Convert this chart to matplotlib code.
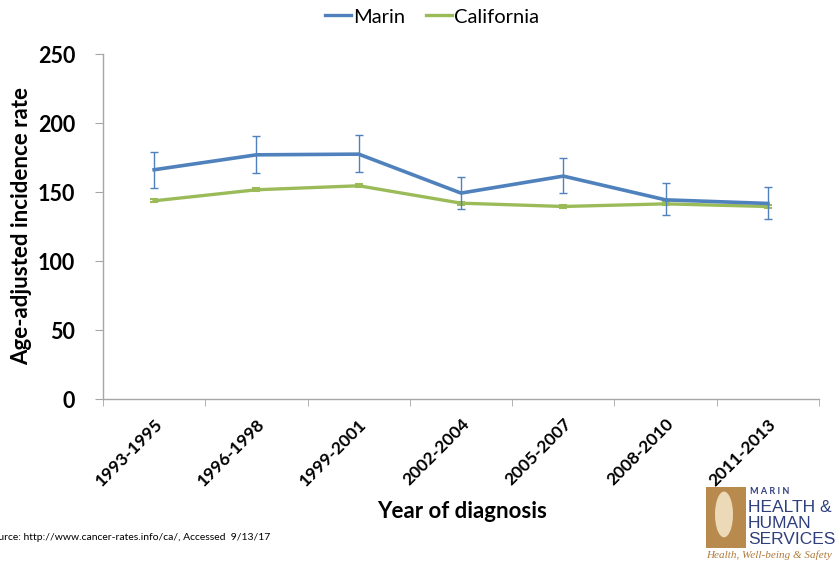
import matplotlib
matplotlib.use("Agg")
import matplotlib.pyplot as plt
from matplotlib.patches import Rectangle, Ellipse
from matplotlib.lines import Line2D
import numpy as np

periods = ["1993-1995", "1996-1998", "1999-2001", "2002-2004", "2005-2007", "2008-2010", "2011-2013"]
marin = [166.2, 177.0, 177.5, 149.3, 161.6, 144.4, 141.8]
marin_low = [153.1, 164.2, 164.7, 137.7, 149.5, 133.1, 130.4]
marin_high = [179.2, 190.8, 191.1, 161.2, 174.9, 156.5, 153.9]
california = [143.7, 151.7, 154.6, 142.0, 139.6, 141.5, 139.6]
cal_low = [142.7, 150.7, 153.6, 141.0, 138.6, 140.5, 138.6]
cal_high = [144.7, 152.7, 155.6, 143.0, 140.6, 142.5, 140.6]
yticks = [0, 50, 100, 150, 200, 250]

plt.rcParams['font.family'] = ['Lato', 'DejaVu Sans']

fig = plt.figure(figsize=(8.39, 5.61), dpi=100)
ax = fig.add_axes([103/839, 1 - 399.3/561, (819 - 103)/839, (399.3 - 54)/561])

x = np.arange(len(periods))
blue = "#4f81bd"
green = "#9bbb59"

m = np.array(marin)
c = np.array(california)
ax.errorbar(x, m, yerr=[m - np.array(marin_low), np.array(marin_high) - m],
            color=blue, lw=2.6, ecolor=blue, elinewidth=1.0, capsize=3, capthick=1.0,
            label="Marin", zorder=3)
ax.errorbar(x, c, yerr=[c - np.array(cal_low), np.array(cal_high) - c],
            color=green, lw=2.4, ecolor=green, elinewidth=1.0, capsize=3, capthick=1.5,
            label="California", zorder=2)

ax.set_xlim(-0.5, len(periods) - 0.5)
ax.set_ylim(0, 250)
ax.set_yticks(yticks)
ax.set_yticklabels([str(v) for v in yticks], fontsize=15.5, fontweight='bold')
ax.set_xticks(x)
ax.set_xticklabels(periods, rotation=45, ha='right', rotation_mode='anchor',
                   fontsize=12.5, fontweight='bold')
ax.tick_params(axis='x', length=0, pad=12)
ax.set_xticks(np.arange(-0.5, len(periods)), minor=True)
ax.tick_params(axis='x', which='minor', length=5, color='#a6a6a6', direction='out')
ax.tick_params(axis='y', length=6, color='#a6a6a6', direction='out', pad=14)

for s in ['top', 'right']:
    ax.spines[s].set_visible(False)
for s in ['left', 'bottom']:
    ax.spines[s].set_color('#a6a6a6')
    ax.spines[s].set_linewidth(1.0)

fig.text(22/839, 1 - 226/561, "Age-adjusted incidence rate", fontsize=16, fontweight='bold',
         rotation=90, ha='center', va='center')
fig.text(462/839, 1 - 511/561, "Year of diagnosis", fontsize=16, fontweight='bold',
         ha='center', va='center')

h = [Line2D([0], [0], color=blue, lw=2.4), Line2D([0], [0], color=green, lw=2.4)]
fig.legend(h, ["Marin", "California"], loc='center', bbox_to_anchor=(432/839, 1 - 17/561),
           ncol=2, frameon=False, fontsize=14.5, handlelength=1.3, handletextpad=0.1,
           columnspacing=1.0)

fig.text(-13/839, 1 - 538/561, "Source: http://www.cancer-rates.info/ca/, Accessed  9/13/17",
         fontsize=7.5, ha='left', va='center')

# logo
lx0 = 706/839; ly0 = 1 - 548/561; lw_ = 40/839; lh = 61/561
fig.patches.append(Rectangle((lx0, ly0), lw_, lh, transform=fig.transFigure,
                             facecolor='#b88a4e', edgecolor='none'))
fig.patches.append(Ellipse((lx0 + lw_*0.45, ly0 + lh*0.55), lw_*0.45, lh*0.75,
                           transform=fig.transFigure, facecolor='#ecd9b8', edgecolor='none'))
navy = '#2e3f7c'
fig.text(750/839, 1 - 492/561, "M A R I N", fontsize=6.5, fontweight='bold', color=navy,
         ha='left', va='center')
for yy, t in [(507, "HEALTH &"), (523, "HUMAN"), (539, "SERVICES")]:
    fig.text(748/839, 1 - yy/561, t, fontsize=12.5, color=navy, ha='left', va='center',
             family=['Liberation Sans Narrow', 'Liberation Sans', 'DejaVu Sans'])
fig.text(706/839, 1 - 555/561, "Health, Well-being & Safety", fontsize=8, color='#b07a3a',
         style='italic', ha='left', va='center', family=['Liberation Serif', 'DejaVu Serif'])

fig.savefig("out.png", dpi=100)
